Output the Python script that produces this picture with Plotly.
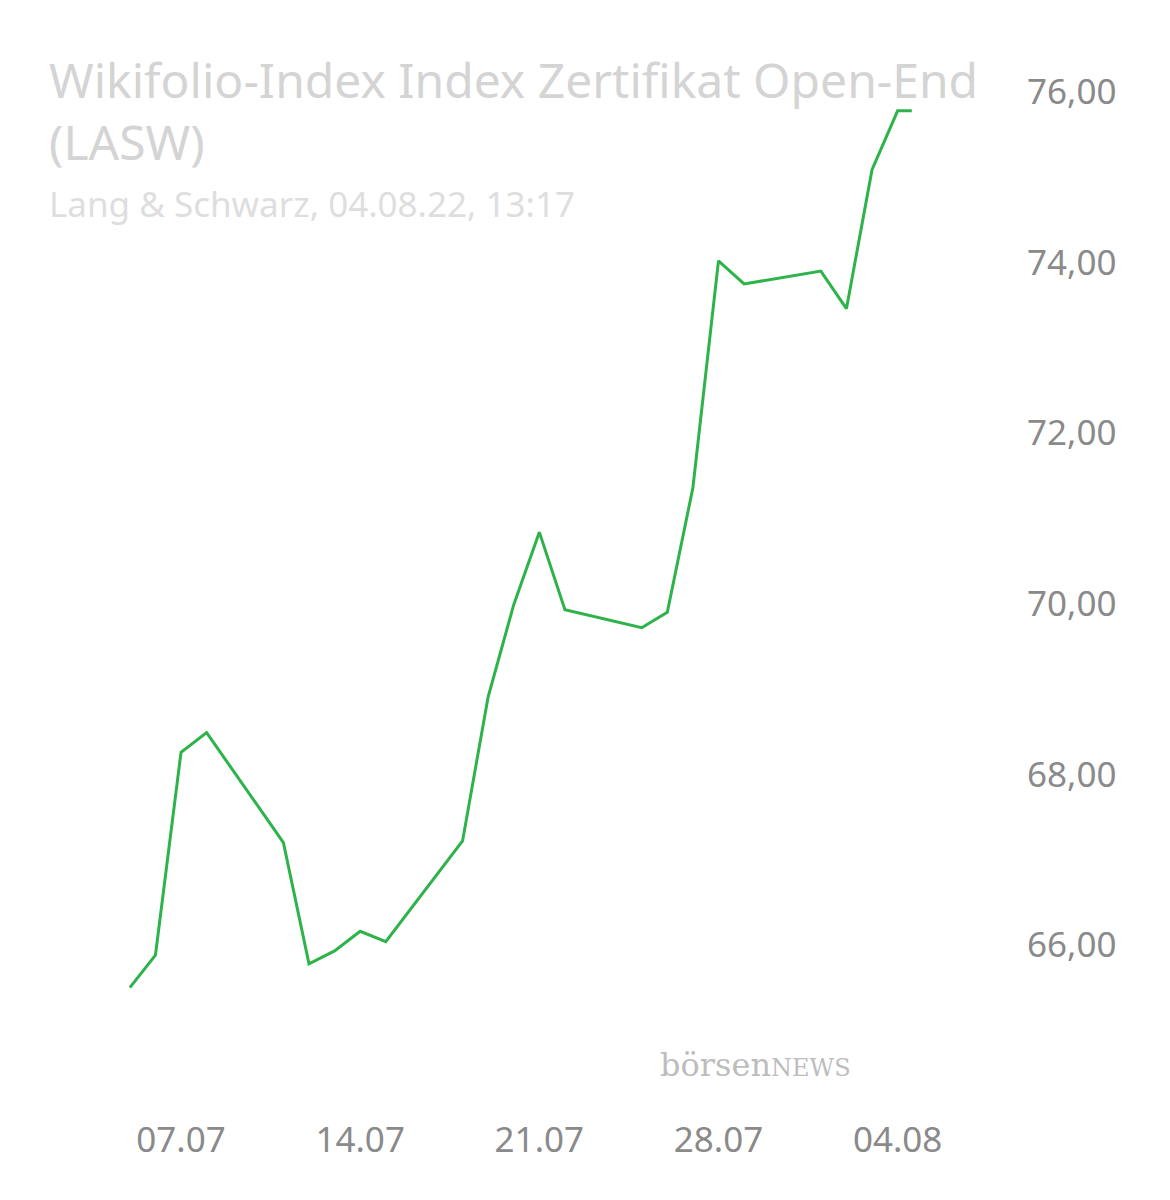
import plotly.graph_objects as go

dates = ["2022-07-05", "2022-07-06", "2022-07-07", "2022-07-08", "2022-07-11", "2022-07-12",
         "2022-07-13", "2022-07-14", "2022-07-15", "2022-07-18", "2022-07-19", "2022-07-20",
         "2022-07-21", "2022-07-22", "2022-07-25", "2022-07-26", "2022-07-27", "2022-07-28",
         "2022-07-29", "2022-08-01", "2022-08-02", "2022-08-03", "2022-08-04", "2022-08-04 13:17"]
values = [65.50, 65.88, 68.26, 68.49, 67.20, 65.78, 65.93, 66.16, 66.04, 67.22, 68.91, 69.99,
          70.84, 69.93, 69.72, 69.90, 71.36, 74.02, 73.75, 73.90, 73.46, 75.09, 75.78, 75.78]
x_ticks = ["2022-07-07", "2022-07-14", "2022-07-21", "2022-07-28", "2022-08-04"]
x_labels = ["07.07", "14.07", "21.07", "28.07", "04.08"]
y_ticks = [66, 68, 70, 72, 74, 76]

L, R, T, B = 60, 170, 40, 110
W, H = 1170, 1200
pw, ph = W - L - R, H - T - B

def px(x):
    return (x - L) / pw

def py(y):
    return (H - B - y) / ph

fig = go.Figure(go.Scatter(x=dates, y=values, mode="lines",
                           line=dict(color="#2db34a", width=3), hoverinfo="skip"))

fig.update_layout(
    width=W, height=H, margin=dict(l=L, r=R, t=T, b=B, autoexpand=False),
    plot_bgcolor="white", paper_bgcolor="white", showlegend=False,
    separators=",.",
    font=dict(family="Noto Sans, sans-serif", color="#8a8a8a"),
    xaxis=dict(type="date", range=["2022-07-02 14:00", "2022-08-08 07:30"], automargin=False,
               tickvals=x_ticks, ticktext=x_labels, showgrid=False, zeroline=False,
               showline=False, ticks="", tickfont=dict(size=35, color="#8a8a8a"),
               ticklabelstandoff=18),
    yaxis=dict(side="right", range=[64.206, 76.516], tickvals=y_ticks, tickformat=".2f",
               automargin=False, showgrid=False, zeroline=False, showline=False, ticks="",
               tickfont=dict(size=35, color="#8a8a8a"), ticklabelstandoff=18),
    annotations=[
        dict(text="Wikifolio-Index Index Zertifikat Open-End<br>(LASW)", xref="paper", yref="paper",
             x=px(39), y=py(37), xanchor="left", yanchor="top", align="left", showarrow=False,
             font=dict(size=48, color="#d4d4d4")),
        dict(text="Lang & Schwarz, 04.08.22, 13:17", xref="paper", yref="paper",
             x=px(39), y=py(195), xanchor="left", yanchor="middle", showarrow=False,
             font=dict(size=35, color="#dedede")),
        dict(text="börsen<span style='font-size:24px'>NEWS</span>", xref="paper", yref="paper",
             x=px(650), y=py(1057), xanchor="left", yanchor="middle", showarrow=False,
             font=dict(size=32, color="#bdbdbd", family="DejaVu Serif, serif")),
    ],
)

fig.write_html("out.html")
